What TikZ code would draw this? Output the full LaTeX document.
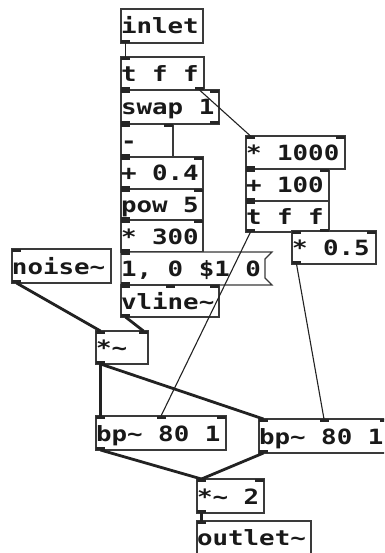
\documentclass[tikz,border=0pt]{standalone}
\usepackage{fontspec}
\newfontfamily\pdfont{DejaVu Sans Mono}[FakeStretch=1.23]
\usetikzlibrary{positioning,calc}
\definecolor{boxc}{HTML}{3A3A3A}
\definecolor{wirec}{HTML}{222222}
\newcommand{\tld}{\textasciitilde}
\newcommand{\iolets}[3]{%
  \ifnum#2>0
    \foreach \k in {1,...,#2}{%
      \ifnum#2>1 \pgfmathsetmacro\frc{(\k-1)/(#2-1)}\else\def\frc{0}\fi
      \coordinate (#1-in\k) at ($([xshift=4.5pt]#1.north west)!\frc!([xshift=-4.5pt]#1.north east)$);
      \fill[port] ([xshift=-4.5pt]#1-in\k) rectangle ([xshift=4.5pt,yshift=-3pt]#1-in\k);
    }%
  \fi
  \ifnum#3>0
    \foreach \k in {1,...,#3}{%
      \ifnum#3>1 \pgfmathsetmacro\frc{(\k-1)/(#3-1)}\else\def\frc{0}\fi
      \coordinate (#1-out\k) at ($([xshift=4.5pt]#1.south west)!\frc!([xshift=-4.5pt]#1.south east)$);
      \fill[port] ([xshift=-4.5pt]#1-out\k) rectangle ([xshift=4.5pt,yshift=3pt]#1-out\k);
    }%
  \fi
}

\begin{document}
\begin{tikzpicture}[x=1pt, y=-1pt,
  obj/.style={draw=boxc, line width=1.2pt, fill=white, inner xsep=0pt, inner ysep=0pt, outer sep=0pt,
    text height=16pt, text depth=0pt, minimum height=33pt, text width=#1pt, align=flush left,
    anchor=north west, text=black!90, font=\pdfont\bfseries\fontsize{21pt}{21pt}\selectfont,
    execute at begin node={\spaceskip=15.55pt\xspaceskip=15.55pt\relax}},
  port/.style={fill=black!85},
  ctl/.style={draw=wirec, line width=1.1pt},
  sig/.style={draw=wirec, line width=2.8pt}]
\useasboundingbox (0,0) rectangle (384,553);
\clip (0,0) rectangle (384,553);
\node (inlet) [obj=82, minimum height=34pt] at (121,9) {inlet};
\node (tff1) [obj=83, below=14pt of inlet.south west, anchor=north west] {t f f};
\node (swap) [obj=98, minimum height=34pt, below=0pt of tff1.south west, anchor=north west] {swap 1};
\node (minus) [obj=52, below=0pt of swap.south west, anchor=north west] {-};
\node (addf) [obj=82, minimum height=32pt, below=0pt of minus.south west, anchor=north west] {+ 0.4};
\node (pow) [obj=82, minimum height=31pt, below=0pt of addf.south west, anchor=north west] {pow 5};
\node (mulf) [obj=82, minimum height=32pt, below=0pt of pow.south west, anchor=north west] {* 300};
\node (msg) [obj=144, draw=none, below=0pt of mulf.south west, anchor=north west] {1, 0 \$1 0};
\node (vline) [obj=98, minimum height=32pt, below=0pt of msg.south west, anchor=north west] {vline\tld};
\node (noise) [obj=99, minimum height=34pt] at (12,249) {noise\tld};
\node (mulsig) [obj=52] at (96,331) {*\tld};
\node (mulk) [obj=99] at (246,136) {* 1000};
\node (addk) [obj=83, minimum height=32pt, below=0pt of mulk.south west, anchor=north west] {+ 100};
\node (tff2) [obj=83, minimum height=31pt, below=0pt of addk.south west, anchor=north west] {t f f};
\node (half) [obj=84] at (292,231) {* 0.5};
\node (bpl) [obj=130, minimum height=34pt] at (96,416) {bp\tld{} 80 1};
\node (bpr) [obj=130, minimum height=34pt] at (259,419) {bp\tld{} 80 1};
\node (gain) [obj=67, minimum height=34pt] at (197,479) {*\tld{} 2};
\node (out) [obj=114] at (197,521) {outlet\tld};
\draw[boxc, line width=1.2pt] (msg.north west) -- ([xshift=7pt]msg.north east) -- ([yshift=-7pt]msg.north east)
  -- ([yshift=7pt]msg.south east) -- ([xshift=7pt]msg.south east) -- (msg.south west) -- cycle;
\iolets{inlet}{0}{1}
\iolets{tff1}{1}{2}
\iolets{swap}{2}{2}
\iolets{minus}{2}{1}
\iolets{addf}{2}{1}
\iolets{pow}{2}{1}
\iolets{mulf}{2}{1}
\iolets{msg}{1}{1}
\iolets{vline}{3}{1}
\iolets{noise}{1}{1}
\iolets{mulsig}{2}{1}
\iolets{mulk}{2}{1}
\iolets{addk}{2}{1}
\iolets{tff2}{1}{2}
\iolets{half}{2}{1}
\iolets{bpl}{3}{1}
\iolets{bpr}{3}{1}
\iolets{gain}{2}{1}
\iolets{out}{1}{0}
\draw[ctl] (inlet-out1) -- (tff1-in1);
\draw[ctl] (tff1-out2) -- (mulk-in1);
\draw[ctl] (tff2-out1) -- (bpl-in2);
\draw[ctl] (half-out1) -- (bpr-in2);
\draw[sig] (noise-out1) -- (mulsig-in1);
\draw[sig] (vline-out1) -- (mulsig-in2);
\draw[sig] (mulsig-out1) -- (bpl-in1);
\draw[sig] (mulsig-out1) -- (bpr-in1);
\draw[sig] (bpl-out1) -- (gain-in1);
\draw[sig] (bpr-out1) -- (gain-in1);
\draw[sig] (gain-out1) -- (out-in1);
\end{tikzpicture}
\end{document}
